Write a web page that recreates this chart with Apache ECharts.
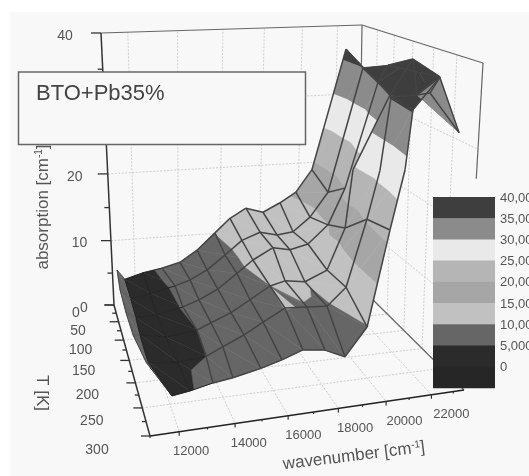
<!DOCTYPE html>
<html><head><meta charset="utf-8"><style>html,body{margin:0;padding:0;background:#fff;overflow:hidden}#c{width:529px;height:476px}</style>
<script src="https://cdn.jsdelivr.net/npm/echarts@6/dist/echarts.min.js"></script></head><body><div id="c"></div>
<script>
const wavenumberTicks=[12000,14000,16000,18000,20000,22000];
const temperatureTicks=[0,50,100,150,200,250,300];
const absorptionTicks=[0,10,20,30,40];
const legendLevels=[40000,35000,30000,25000,20000,15000,10000,5000,0];
const bandColors=['#3e3e3e','#8b8b8b','#e9e9e9','#b5b5b5','#a6a6a6','#c1c1c1','#666666','#2b2b2b','#262626'];
const rowT=[0,60,120,180,240,300];
const wnGrid=[
[11210,11540,12370,13240,14090,14900,15760,16490,17280,18160,19040,19880,20730,22540,23600,23600],
[11090,11530,12360,13460,14130,14900,15720,16500,17360,18200,19000,19850,20760,22500,23400,23400],
[11070,11460,12310,13390,14070,14880,15700,16400,17300,18100,18950,19900,20690,22230,22760,22760],
[11070,11330,12310,13530,14090,14900,15680,16510,17150,18040,19030,19780,20020,21690,22840,24420],
[11240,11310,12370,13410,14040,14840,15570,16420,17330,18190,18970,19720,20180,20490,21760,22420],
[11770,11770,12370,13160,13860,14860,15630,16410,17280,18110,18940,19600,20060,20210,21350,22480]];
const zGrid=[
[5.4,3.9,4.7,5.2,5.9,7.6,10.1,12.2,13.6,12.8,14.1,15.6,18.9,36.6,33.8,33.8],
[5.3,3.8,4.4,5.2,5.9,7.2,9.2,11.2,12.2,11.6,11.9,13.9,17.4,35.0,32.9,32.9],
[5.1,4.2,4.3,5.1,5.9,7.2,9.2,10.9,12.4,11.9,12.5,15.0,20.0,34.2,36.4,36.4],
[5.3,5.2,4.5,5.0,5.8,6.9,8.4,10.0,10.5,10.1,11.4,16.9,24.6,33.9,38.3,35.8],
[5.2,5.2,4.7,5.0,6.0,7.2,8.6,10.1,9.9,9.7,11.9,20.4,26.4,35.3,35.3,35.4],
[4.6,4.6,4.9,5.5,5.8,6.5,7.2,8.1,7.7,6.5,9.9,21.5,28.5,35.4,38.8,32.2]];
const shadedAbsorption={0:6,1:5};
const darkTopCells=[[13,1],[13,2],[13,3],[13,4],[14,0],[14,1],[14,2],[14,3]];
const flapCell=[14,4];
function H(p){const [x0,y0]=p[0],[x1,y1]=p[1],[x2,y2]=p[2],[x3,y3]=p[3];
 const dx1=x1-x2,dx2=x3-x2,dy1=y1-y2,dy2=y3-y2,sx=x0-x1+x2-x3,sy=y0-y1+y2-y3,det=dx1*dy2-dx2*dy1;
 const g=(sx*dy2-dx2*sy)/det,h=(dx1*sy-sx*dy1)/det;
 const a=x1-x0+g*x1,b=x3-x0+h*x3,d=y1-y0+g*y1,e=y3-y0+h*y3;
 return (u,v)=>{const q=g*u+h*v+1;return [(a*u+b*v+x0)/q,(d*u+e*v+y0)/q];};}
const floorH=H([[114,305],[358,285],[464,390],[150,436]]);
const topH=H([[101,33],[362,25],[483,63],[137,94]]);
const K=.93;
function proj(wn,T,z){const u=(wn-11000)/12500,v=T/300,w=z/40;const A=floorH(u,v),B=topH(u,v);const q=(1-w)+w*K;
 return [((1-w)*A[0]+w*K*B[0])/q,((1-w)*A[1]+w*K*B[1])/q];}
const bands=bandColors.map((c,i)=>({c,hi:i==0?1e9:(8-i)*5,lo:i==8?-1e9:(7-i)*5}));
function clipZ(poly,z0,keepAbove){const out=[];for(let i=0;i<poly.length;i++){const a=poly[i],b=poly[(i+1)%poly.length];
 const ia=keepAbove?a[2]>=z0:a[2]<=z0,ib=keepAbove?b[2]>=z0:b[2]<=z0;if(ia)out.push(a);
 if(ia!==ib){const t=(z0-a[2])/(b[2]-a[2]);out.push([a[0]+t*(b[0]-a[0]),a[1]+t*(b[1]-a[1]),z0]);}}return out;}
function bandPolys(tri){const res=[];bands.forEach(b=>{let p=clipZ(tri,b.lo,true);if(p.length>2)p=clipZ(p,b.hi,false);if(p.length>2)res.push({c:b.c,pts:p});});return res;}
const cells=[];for(let j=0;j<5;j++)for(let i=0;i<15;i++)cells.push([i,j]);
const chart=echarts.init(document.getElementById('c'),null,{renderer:'canvas'});
const txt=(x,y,t,o={})=>({type:'text',x,y,silent:true,z2:5,style:{text:t,fill:'#555',font:(o.s||13)+'px "Liberation Sans"',align:o.a||'center',verticalAlign:'middle'}});
function axisItem(params,api){
 const P=(a,b,d)=>api.coord(proj(a,b,d));
 const ln=(a,b,stroke,w,dash)=>({type:'line',silent:true,shape:{x1:a[0],y1:a[1],x2:b[0],y2:b[1]},style:{stroke,lineWidth:w,lineDash:dash||null}});
 const kids=[];const G='#cfcfcf',D=[2,1.5];
 const wn0=11000,wn1=23500;
 wavenumberTicks.forEach(w=>{kids.push(ln(P(w,0,0),P(w,0,40),G,1,D));kids.push(ln(P(w,0,0),P(w,300,0),G,1,D));});
 temperatureTicks.slice(1,6).forEach(t=>{kids.push(ln(P(wn1,t,0),P(wn1,t,40),G,1,D));kids.push(ln(P(wn0,t,0),P(wn1,t,0),G,1,D));});
 [10,20,30].forEach(z=>{kids.push(ln(P(wn0,0,z),P(wn1,0,z),G,1,D));kids.push(ln(P(wn1,0,z),P(wn1,300,z),G,1,D));});
 kids.push(ln(P(wn0,0,40),P(wn1,0,40),'#666',1.2),ln(P(wn1,0,40),P(wn1,300,40),'#666',1.2),ln(P(wn1,0,0),P(wn1,0,40),'#666',1.2),ln(P(wn1,300,40),P(wn1,300,26.5),'#666',1.2),ln(P(wn1,0,0),P(wn1,300,0),'#666',1.2));
 kids.push(ln(P(wn0,0,0),P(wn0,0,40),'#333',1.5),ln(P(wn0,0,0),P(wn0,300,0),'#333',1.5),ln(P(wn0,300,0),P(wn1,300,0),'#222',1.5));
 for(let z=0;z<=40;z+=5){const p=P(wn0,0,z),m=z%10==0;kids.push(ln([p[0]-(m?10:5),p[1]],p,'#333',1.3));}
 for(let t=0;t<=300;t+=25){const p=P(wn0,t,0),m=t%50==0;kids.push(ln([p[0]-(m?9:4),p[1]],p,'#333',1.3));}
 for(let w=wn0;w<=wn1;w+=1000){const p=P(w,300,0),m=w%2000==0;kids.push(ln(p,[p[0],p[1]+(m?4:2)],'#333',1.2));}
 absorptionTicks.forEach(z=>{const p=P(wn0,0,z);kids.push(txt(p[0]-30-6*z/40,p[1]+3,String(z),{s:14}));});
 temperatureTicks.forEach(t=>{const p=P(wn0,t,0),v=t/300;kids.push(txt(p[0]-38-15*v,p[1]+8+6*v,String(t),{s:14}));});
 wavenumberTicks.forEach(w=>{const p=P(w,300,0),u=(w-12000)/10000;kids.push(txt(p[0]+12+8*u,p[1]+20,String(w),{s:13}));});
 return {type:'group',children:kids};}
function cellItem(params,api){const [i,j]=cells[params.dataIndex];
 const V=(a,b)=>{const p=proj(wnGrid[b][a],rowT[b],zGrid[b][a]);const s=a in shadedAbsorption?shadedAbsorption[a]:zGrid[b][a];return [p[0],p[1],s];};
 const a=V(i,j),b=V(i+1,j),d=V(i+1,j+1),e=V(i,j+1);const kids=[];
 const is=(c)=>c[0]==i&&c[1]==j;const forced=darkTopCells.some(is)?bandColors[0]:is(flapCell)?bandColors[1]:null;
 [[a,b,d],[a,d,e]].forEach(t=>{(forced?[{c:forced,pts:t}]:bandPolys(t)).forEach(q=>{kids.push({type:'polygon',silent:true,shape:{points:q.pts.map(p=>api.coord([p[0],p[1]]))},style:{fill:q.c,stroke:q.c,lineWidth:.5}});});});
 const edge=(p,q,col,w)=>kids.push({type:'line',silent:true,z2:3,shape:{x1:api.coord([p[0],p[1]])[0],y1:api.coord([p[0],p[1]])[1],x2:api.coord([q[0],q[1]])[0],y2:api.coord([q[0],q[1]])[1]},style:{stroke:col,lineWidth:w||1.5}});
 const stroke=i<=2?(i==0?'#5a5a5a':'#242424'):'#444444';
 edge(a,b,stroke,i<=2?1:1.5);if(j==4)edge(e,d,stroke,i<=2?1:1.5);
 if(!(i==12&&j>=2))edge(a,e,i==1||i==2?'#242424':'#444444',i<=2?1:1.5);
 if(i==14)edge(b,d,'#444444');
 return {type:'group',children:kids};}
function legendItem(params,api){const kids=[];const x=433,w=62,top=197,h=21.2;
 bandColors.forEach((c,i)=>{const a=api.coord([x,top+i*h]);kids.push({type:'rect',silent:true,shape:{x:a[0],y:a[1],width:w,height:h+.5},style:{fill:c}});});
 legendLevels.forEach((l,i)=>{const a=api.coord([x+67,top+1+i*h]);kids.push(txt(a[0],a[1],l.toLocaleString('en-US'),{a:'left',s:13}));});
 return {type:'group',children:kids};}
const sup={fontSize:10,verticalAlign:'top',fill:'#555',fontFamily:'Liberation Sans',padding:[0,0,7,0]};
const title={fontSize:17,fill:'#555',fontFamily:'Liberation Sans'};
chart.setOption({animation:false,
 grid:{left:0,right:0,top:0,bottom:0},
 xAxis:{type:'value',min:0,max:529,show:false},yAxis:{type:'value',min:0,max:476,inverse:true,show:false},
 graphic:[{type:'rect',z:-5,silent:true,shape:{x:10,y:12,width:519,height:464},style:{fill:'#f8f8f8'}},
  {type:'rect',z:50,silent:true,shape:{x:18.5,y:72,width:287,height:72.5},style:{fill:'#f8f8f8',stroke:'#666',lineWidth:1.5}},
  {type:'text',z:51,silent:true,x:36,y:94,style:{text:'BTO+Pb35%',fill:'#444',font:'22px "Liberation Sans"',verticalAlign:'middle'}},
  {type:'text',z:51,silent:true,x:43,y:207,rotation:Math.PI/2,style:{rich:{a:title,s:sup},text:'{a|absorption [cm}{s|-1}{a|]}',align:'center',verticalAlign:'middle'}},
  {type:'text',z:51,silent:true,x:42,y:393,rotation:-Math.PI/2,style:{text:'T [K]',fill:'#555',font:'17px "Liberation Sans"',align:'center',verticalAlign:'middle'}},
  {type:'text',z:51,silent:true,x:354,y:456,rotation:7*Math.PI/180,style:{rich:{a:title,s:sup},text:'{a|wavenumber [cm}{s|-1}{a|]}',align:'center',verticalAlign:'middle'}}],
 series:[
  {type:'custom',coordinateSystem:'cartesian2d',silent:true,clip:false,z:1,data:[[0,0]],encode:{x:0,y:1},renderItem:axisItem},
  {type:'custom',coordinateSystem:'cartesian2d',silent:true,clip:false,z:2,data:cells,encode:{x:0,y:1},renderItem:cellItem},
  {type:'custom',coordinateSystem:'cartesian2d',silent:true,clip:false,z:3,data:[[0,0]],encode:{x:0,y:1},renderItem:legendItem}]
});
</script></body></html>
